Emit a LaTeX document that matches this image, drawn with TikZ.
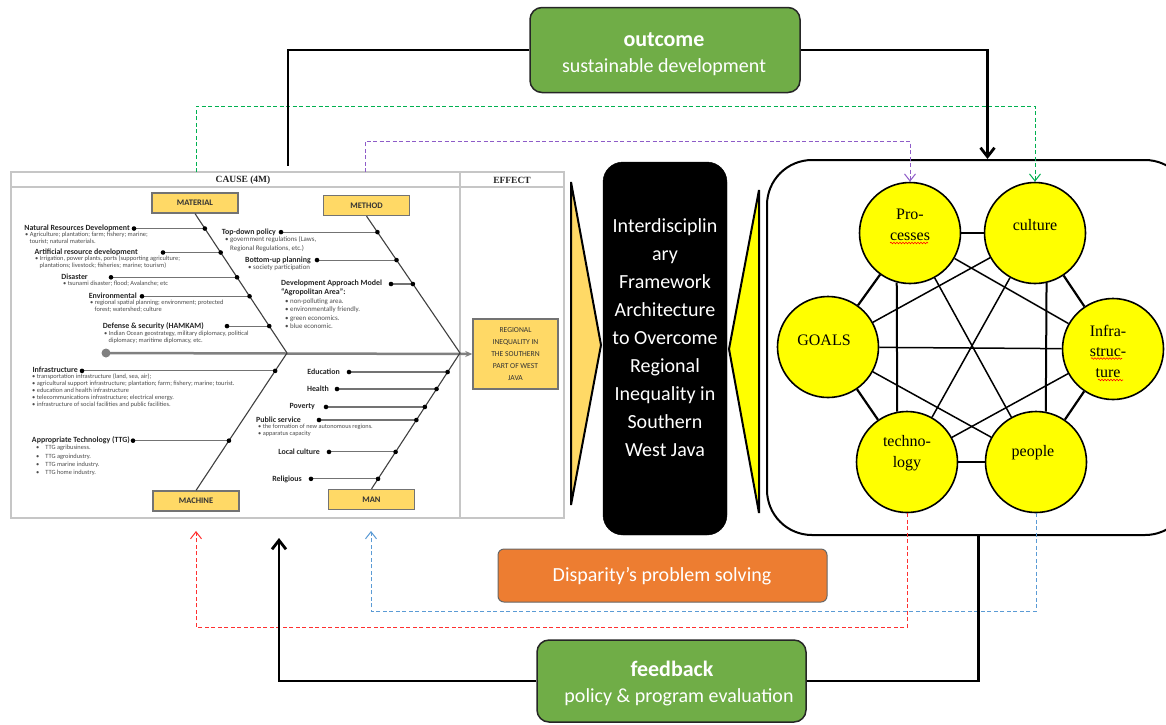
\documentclass[tikz,border=0pt]{standalone}
\usepackage{fontspec}
\setmainfont{Carlito}
\newfontfamily\tnr{Liberation Serif}
\usetikzlibrary{arrows.meta,calc,decorations.pathmorphing}
\definecolor{gold}{HTML}{FFD966}
\definecolor{ygreen}{HTML}{70AD47}
\definecolor{orng}{HTML}{ED7D31}
\definecolor{dgreen}{HTML}{00B050}
\definecolor{purp}{HTML}{8E5CC8}
\definecolor{dred}{HTML}{FF3030}
\definecolor{dblue}{HTML}{5B9BD5}
\definecolor{ylw}{HTML}{FFFF00}
\begin{document}
\begin{tikzpicture}[x=1pt,y=-1pt,
  catbox/.style={draw=black!55, fill=gold, line width=1.2, minimum width=86, minimum height=20, inner sep=0, font=\fontsize{8.5}{10}\selectfont\bfseries, text=black!80},
  lab/.style={inner sep=0, anchor=east, font=\fontsize{7.9}{8.6}\selectfont\bfseries, text=black!85},
  bul/.style={inner sep=0, anchor=west, align=left, font=\fontsize{6.4}{7}\selectfont, text=black!70},
  bulb/.style={inner sep=0, anchor=west, align=left, font=\fontsize{6.9}{8.2}\selectfont, text=black!70},
  bone/.style={draw=black!75, line width=1.1},
  twig/.style={draw=black!55, line width=1.1},
  circ/.style={circle, draw=black, line width=1.6, fill=ylw, minimum size=101, inner sep=0},
  ctext/.style={align=center, inner sep=0, font=\tnr\fontsize{16}{20.5}\selectfont},
  thick edge/.style={line width=2.2},
  thin edge/.style={line width=1.5},
  conn/.style={line width=2.8, black},
  bigtip/.style={-{Straight Barb[length=9pt,width=14pt]}},
  dsh/.style={line width=1, dash pattern=on 4pt off 2.5pt, -{Straight Barb[length=7pt,width=11pt]}},
  greenbox/.style={draw=black!85, line width=1.5, fill=ygreen, rounded corners=12},
  squig/.style={draw=red, line width=0.6, decorate, decoration={snake, amplitude=0.8pt, segment length=3pt}}
]
\useasboundingbox (0,0) rectangle (1166,724);
\fill[white] (0,0) rectangle (1166,724);
\clip (0,0) rectangle (1166,724);

% ---------------- fishbone frame ----------------
\draw[gray!45, line width=1.5] (11,172) rectangle (564,518);
\draw[gray!45, line width=1.5] (11,187) -- (564,187);
\draw[gray!45, line width=1.2] (460,172) -- (460,518);
\node[font=\tnr\fontsize{9.5}{11}\selectfont\bfseries, text=black!85] (cause) at (243,180) {CAUSE (4M)};
\node[font=\tnr\fontsize{9.5}{11}\selectfont\bfseries, text=black!85] (effhead) at (512,180) {EFFECT};

% effect box
\node[draw=black!55, line width=1.5, fill=gold, minimum width=85, minimum height=70, inner sep=0, align=center, font=\fontsize{7.6}{12.2}\selectfont, text=black!80] (eff) at (515.5,354) {REGIONAL\\INEQUALITY IN\\THE SOUTHERN\\PART OF WEST\\JAVA};

% spine
\coordinate (spL) at (106,353);
\draw[black!50, line width=2.5, -{Stealth[length=7pt,width=6pt]}] (spL) -- (eff.west);
\fill[black!50] (spL) circle (4.5);

% category boxes
\node[catbox] (mat) at (195,203) {MATERIAL};
\node[catbox] (meth) at (366.5,205.5) {METHOD};
\node[catbox] (mach) at (196,501) {MACHINE};
\node[catbox] (man) at (371.5,499.5) {MAN};

\coordinate (J1) at (287,353);
\coordinate (J2) at (460,353);
\draw[bone] (mat.south) -- (J1) -- (mach.north);
\draw[bone] (meth.south) -- (J2) -- (man.north);

% twigs
\foreach \t/\lx [count=\i] in {.107/134,.279/163,.457/111,.593/142,.807/227}{
  \coordinate (mr\i) at ($(mat.south)!\t!(J1)$);
  \coordinate (ml\i) at (mr\i -| \lx,0);
  \draw[twig] (ml\i) -- (mr\i);
  \fill (ml\i) circle (2.3); \fill (mr\i) circle (2.3);
}
\foreach \t/\lx [count=\i] in {.117/281,.321/317,.496/391}{
  \coordinate (tr\i) at ($(meth.south)!\t!(J2)$);
  \coordinate (tl\i) at (tr\i -| \lx,0);
  \draw[twig] (tl\i) -- (tr\i);
  \fill (tl\i) circle (2.3); \fill (tr\i) circle (2.3);
}
\foreach \t/\lx [count=\i] in {.130/82,.638/133}{
  \coordinate (cr\i) at ($(J1)!\t!(mach.north)$);
  \coordinate (cl\i) at (cr\i -| \lx,0);
  \draw[twig] (cl\i) -- (cr\i);
  \fill (cl\i) circle (2.3); \fill (cr\i) circle (2.3);
}
\foreach \t/\lx [count=\i] in {.140/349,.265/337,.397/326,.493/319,.728/329,.926/311}{
  \coordinate (nr\i) at ($(J2)!\t!(man.north)$);
  \coordinate (nl\i) at (nr\i -| \lx,0);
  \draw[twig] (nl\i) -- (nr\i);
  \fill (nl\i) circle (2.3); \fill (nr\i) circle (2.3);
}

% material labels
\node[lab] (l1) at (130,228) {Natural Resources Development};
\node[bul] (b1) at (25,238) {• Agriculture; plantation; farm; fishery; marine;\\\hspace*{4.5pt}tourist; natural materials.};
\node[lab] (l2) at (138,252) {Artificial resource development};
\node[bul] (b2) at (35,262.5) {• Irrigation, power plants, ports (supporting agriculture;\\\hspace*{4.5pt}plantations; livestock; fisheries; marine; tourism)};
\node[lab] (l3) at (88,277) {Disaster};
\node[bul] (b3) at (63,284) {• tsunami disaster; flood; Avalanche; etc};
\node[lab] (l4) at (137,296) {Environmental};
\node[bul] (b4) at (90,306.5) {• regional spatial planning; environment; protected\\\hspace*{4.5pt}forest; watershed; culture};
\node[lab] (l5) at (204,326) {Defense \& security (HAMKAM)};
\node[bul] (b5) at (104,337) {• Indian Ocean geostrategy, military diplomacy, political\\\hspace*{4.5pt}diplomacy; maritime diplomacy, etc.};

% method labels
\node[lab] (l6) at (276,232) {Top-down policy};
\node[bulb] (b6) at (225,244) {• government regulations (Laws,\\\hspace*{5pt}Regional Regulations, etc.)};
\node[lab] (l7) at (311,260) {Bottom-up planning};
\node[bulb] (b7) at (248,268) {• society participation};
\node[lab, anchor=west, align=left] (l8) at (281,288) {Development Approach Model\\“Agropolitan Area”:};
\node[bulb, font=\fontsize{6.9}{8.3}\selectfont] (b8) at (285,313.5) {• non-polluting area.\\• environmentally friendly.\\• green economics.\\• blue economic.};

% machine labels
\node[lab] (l9) at (78,370) {Infrastructure};
\node[bul] (b9) at (32,391) {• transportation infrastructure (land, sea, air);\\• agricultural support infrastructure; plantation; farm; fishery; marine; tourist.\\• education and health infrastructure\\• telecommunications infrastructure; electrical energy.\\• infrastructure of social facilities and public facilities.};
\node[lab] (l10) at (130,440) {Appropriate Technology (TTG)};
\node[bul, font=\fontsize{6.4}{8.3}\selectfont] (b10) at (36,460.5) {•\hspace{6pt}TTG agribusiness.\\•\hspace{6pt}TTG agroindustry.\\•\hspace{6pt}TTG marine industry.\\•\hspace{6pt}TTG home industry.};

% man labels
\node[lab] (l11) at (340,372) {Education};
\node[lab] (l12) at (329,389) {Health};
\node[lab] (l13) at (315,407) {Poverty};
\node[lab] (l14) at (301,420) {Public service};
\node[bul, font=\fontsize{6.3}{7}\selectfont] (b14) at (258,430.5) {• the formation of new autonomous regions.\\• apparatus capacity};
\node[lab] (l15) at (320,452) {Local culture};
\node[lab] (l16) at (302,479) {Religious};

% ---------------- chevrons and central box ----------------
\draw[line width=2, fill=gold, line join=miter] (571,182) -- (601,345) -- (571,505) -- cycle;
\draw[line width=2, fill=ylw, line join=miter] (759,190) -- (729,349) -- (759,513) -- cycle;
\node[fill=black, draw=black, rounded corners=20, minimum width=124, minimum height=373] (fw) at (665,348.5) {};
\node[text=white, align=center, inner sep=0, font=\fontsize{20}{28}\selectfont] (fwT) at (665,337.5) {Interdisciplin\\ary\\Framework\\Architecture\\to Overcome\\Regional\\Inequality in\\Southern\\West Java};

% ---------------- network panel ----------------
\node[draw=black, line width=2, rounded corners=45, minimum width=423, minimum height=375] (panel) at (978.5,347.5) {};
\node[circ] (proc) at (910,233) {};
\node[circ] (cult) at (1035,233) {};
\node[circ] (goal) at (828,347) {};
\node[circ] (infr) at (1113,349) {};
\node[circ] (tech) at (907,462) {};
\node[circ] (peop) at (1036,462) {};

\draw[thick edge] (proc) -- (cult);
\draw[thick edge] (cult) -- (infr);
\draw[thick edge] (infr) -- (peop);
\draw[thick edge] (peop) -- (tech);
\draw[thick edge] (tech) -- (goal);
\draw[thick edge] (goal) -- (proc);
\draw[line width=2] (proc.-105) -- (tech.101);
\draw[line width=2] (cult.-77) -- (peop.79);
\draw[thin edge] (goal) -- (infr);
\draw[thin edge] (goal) -- (cult);
\draw[thin edge] (goal) -- (peop);
\draw[thin edge] (proc) -- (infr);
\draw[thin edge] (proc) -- (peop);
\draw[thin edge] (cult) -- (tech);
\draw[thin edge] (tech) -- (infr);

\node[ctext] (procT) at (910,225) {Pro-\\cesses};
\node[ctext] (cultT) at (1035,225) {culture};
\node[ctext] (goalT) at (824,340) {GOALS};
\node[ctext] (infrT) at (1108,351) {Infra-\\struc-\\ture};
\node[ctext] (techT) at (907,453) {techno-\\logy};
\node[ctext] (peopT) at (1033,453) {people};
\draw[squig] (890,243) -- (928,243);
\draw[squig] (1091,358.5) -- (1122,358.5);
\draw[squig] (1098,380) -- (1123,380);

% ---------------- boxes ----------------
\node[greenbox, minimum width=270, minimum height=85] (out) at (665,50) {};
\node[text=white, inner sep=0, font=\fontsize{22}{26}\selectfont\bfseries] (outA) at (664,40) {outcome};
\node[text=white, inner sep=0, font=\fontsize{20}{24}\selectfont] (outB) at (664,67) {sustainable development};

\node[draw=black!60, line width=1, fill=orng, rounded corners=6, minimum width=329, minimum height=53] (dis) at (662.5,575.5) {};
\node[text=white, inner sep=0, font=\fontsize{20}{24}\selectfont] (disT) at (662,576) {Disparity’s problem solving};

\node[greenbox, minimum width=269, minimum height=82] (fb) at (671.5,681) {};
\node[text=white, inner sep=0, font=\fontsize{22}{26}\selectfont\bfseries] (fbA) at (672,669) {feedback};
\node[text=white, inner sep=0, font=\fontsize{20}{24}\selectfont] (fbB) at (679,697) {policy \& program evaluation};

% ---------------- dashed connectors ----------------
\coordinate (gS) at (196,172);
\coordinate (pS) at (365,172);
\coordinate (rE) at (196,531);
\coordinate (bE) at (371,531);
\draw[dsh, dgreen] (gS) -- ++(0,-66) -| (cult.north);
\draw[dsh, purp] (pS) -- ++(0,-31) -| (proc.north);
\draw[dsh, dred] (tech.south) -- ++(0,114) -| (rE);
\draw[dsh, dblue] (peop.south) -- ++(0,98) -| (bE);

% ---------------- main connectors ----------------
\coordinate (oE) at (288,166);
\coordinate (fE) at (279,538);
\draw[conn] (out.west) -| (oE);
\draw[conn, bigtip] (out.east) -| ($(panel.north)+(9,0)$);
\draw[conn] (fb.east) -| (panel.south);
\draw[conn, bigtip] (fb.west) -| (fE);
\end{tikzpicture}
\end{document}
